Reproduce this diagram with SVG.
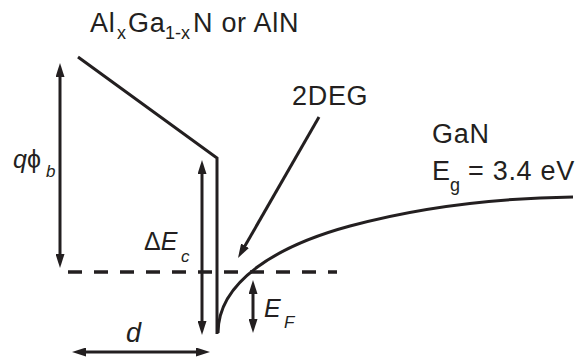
<svg xmlns="http://www.w3.org/2000/svg" width="578" height="358" viewBox="0 0 578 358">
<defs>
<marker id="ah" viewBox="0 0 14 9" markerWidth="14" markerHeight="9" refX="6" refY="4.5" orient="auto-start-reverse" markerUnits="userSpaceOnUse">
<path d="M0,0 L14,4.5 L0,9 z" fill="#231f20"/>
</marker>
<style>
text{font-family:"Liberation Sans",Arial,Helvetica,sans-serif;fill:#231f20}
.l{font-size:27px;letter-spacing:0.7px}
.s{font-size:18px}
.m{font-size:25px}
.ss{font-size:17px}
.i{font-style:italic}
.ln{fill:none;stroke:#231f20;stroke-width:3}
.arr{fill:none;stroke:#231f20;stroke-width:3;marker-end:url(#ah)}
.dbl{fill:none;stroke:#231f20;stroke-width:3;marker-start:url(#ah);marker-end:url(#ah)}
</style>
</defs>
<g id="band">
<path class="ln" d="M78,57 L217,158 L217,334"/>
<path class="ln" d="M218,333 C218,280 280,245 350,226 S500,198 573,197"/>
</g>
<g id="fermi">
<line x1="68" y1="272" x2="337" y2="272" stroke="#231f20" stroke-width="3.5" stroke-dasharray="14 12"/>
</g>
<g id="connectors">
<line class="dbl" x1="60" y1="71" x2="60" y2="260"/>
<line class="dbl" x1="202" y1="168" x2="202" y2="327"/>
<line class="dbl" x1="253" y1="288" x2="253" y2="325"/>
<line class="dbl" x1="80" y1="352" x2="202" y2="352"/>
<line class="arr" x1="319" y1="117" x2="242" y2="251"/>
</g>
<g id="title">
<text class="l" x="90" y="32">Al</text>
<text class="s" x="117" y="39">x</text>
<text class="l" x="128" y="32">Ga</text>
<text class="s" x="165" y="39">1-x</text>
<text class="l" x="193" y="32">N or AlN</text>
</g>
<g id="qphib">
<text class="m" x="13" y="168"><tspan class="i">q</tspan>ϕ</text>
<text class="ss i" x="46" y="177">b</text>
</g>
<g id="dEc">
<text class="m" x="144" y="250">Δ<tspan class="i">E</tspan></text>
<text class="ss i" x="181" y="262">c</text>
</g>
<g id="EF">
<text class="m i" x="264" y="317">E</text>
<text class="ss i" x="284" y="328">F</text>
</g>
<g id="twodeg">
<text class="l" x="292" y="105">2DEG</text>
</g>
<g id="gan">
<text class="l" x="432" y="143">GaN</text>
<text class="l" x="432" y="180">E</text>
<text class="s" x="450" y="191">g</text>
<text class="l" x="468" y="180">= 3.4 eV</text>
</g>
<g id="dlabel">
<text class="l i" x="126" y="342">d</text>
</g>
</svg>
